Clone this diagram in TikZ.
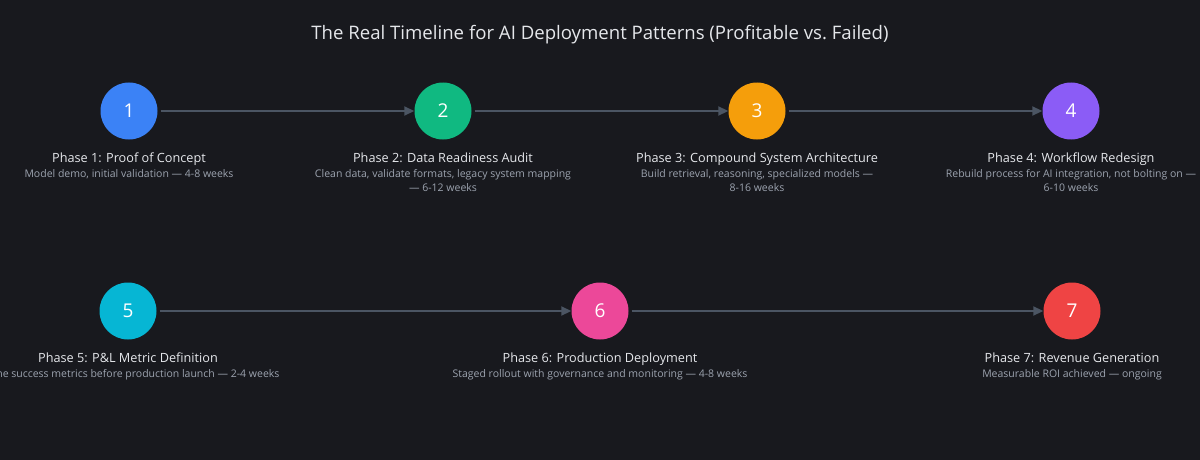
\documentclass[tikz,border=0pt]{standalone}
\usepackage{fontspec}
\setmainfont{Open Sans}
\usetikzlibrary{arrows.meta}
\definecolor{bg}{HTML}{18191E}
\definecolor{linec}{HTML}{4B5563}
\definecolor{titlec}{HTML}{E5E7EB}
\definecolor{descc}{HTML}{9CA3AF}
\definecolor{c1}{HTML}{3B82F6}
\definecolor{c2}{HTML}{10B981}
\definecolor{c3}{HTML}{F59E0B}
\definecolor{c4}{HTML}{8B5CF6}
\definecolor{c5}{HTML}{06B6D4}
\definecolor{c6}{HTML}{EC4899}
\definecolor{c7}{HTML}{EF4444}
\tikzset{
  phase/.style={circle, minimum size=57pt, inner sep=0pt, text=white, font=\fontsize{19}{19}\selectfont},
  ptitle/.style={text=titlec, font=\fontsize{12.7}{14}\selectfont, inner sep=0pt, anchor=base},
  pdesc/.style={text=descc, font=\fontsize{10.5}{14}\selectfont, inner sep=0pt, anchor=north, align=center},
  conn/.style={draw=linec, line width=1.8pt, -{Triangle[length=10pt,width=9pt]}, shorten <=3pt}
}
\begin{document}
\begin{tikzpicture}[x=1pt,y=-1pt]
\fill[bg] (0,0) rectangle (1200,460);
\useasboundingbox (0,0) rectangle (1200,460);
\clip (0,0) rectangle (1200,460);
\node[text=titlec, font=\fontsize{18.6}{21}\selectfont, anchor=base] (title) at (600,40) {The Real Timeline for AI Deployment Patterns (Profitable vs.\ Failed)};

\node[phase, fill=c1] (p1) at (129,111) {1};
\node[phase, fill=c2] (p2) at (443,111) {2};
\node[phase, fill=c3] (p3) at (757,111) {3};
\node[phase, fill=c4] (p4) at (1071,111) {4};
\node[phase, fill=c5] (p5) at (128,311) {5};
\node[phase, fill=c6] (p6) at (600,311) {6};
\node[phase, fill=c7] (p7) at (1072,311) {7};

\draw[conn] (p1) -- (p2);
\draw[conn] (p2) -- (p3);
\draw[conn] (p3) -- (p4);
\draw[conn] (p5) -- (p6);
\draw[conn] (p6) -- (p7);

\node[ptitle] (t1) at (129,162) {Phase 1: Proof of Concept};
\node[ptitle] (t2) at (443,162) {Phase 2: Data Readiness Audit};
\node[ptitle] (t3) at (757,162) {Phase 3: Compound System Architecture};
\node[ptitle] (t4) at (1071,162) {Phase 4: Workflow Redesign};
\node[ptitle] (t5) at (128,362) {Phase 5: P\&L Metric Definition};
\node[ptitle] (t6) at (600,362) {Phase 6: Production Deployment};
\node[ptitle] (t7) at (1072,362) {Phase 7: Revenue Generation};

\node[pdesc] (d1) at (129,169) {Model demo, initial validation — 4-8 weeks};
\node[pdesc] (d2) at (443,169) {Clean data, validate formats, legacy system mapping\\— 6-12 weeks};
\node[pdesc] (d3) at (757,169) {Build retrieval, reasoning, specialized models —\\8-16 weeks};
\node[pdesc] (d4) at (1071,169) {Rebuild process for AI integration, not bolting on —\\6-10 weeks};
\node[pdesc] (d5) at (128,369) {Define success metrics before production launch — 2-4 weeks};
\node[pdesc] (d6) at (600,369) {Staged rollout with governance and monitoring — 4-8 weeks};
\node[pdesc] (d7) at (1072,369) {Measurable ROI achieved — ongoing};
\end{tikzpicture}
\end{document}
